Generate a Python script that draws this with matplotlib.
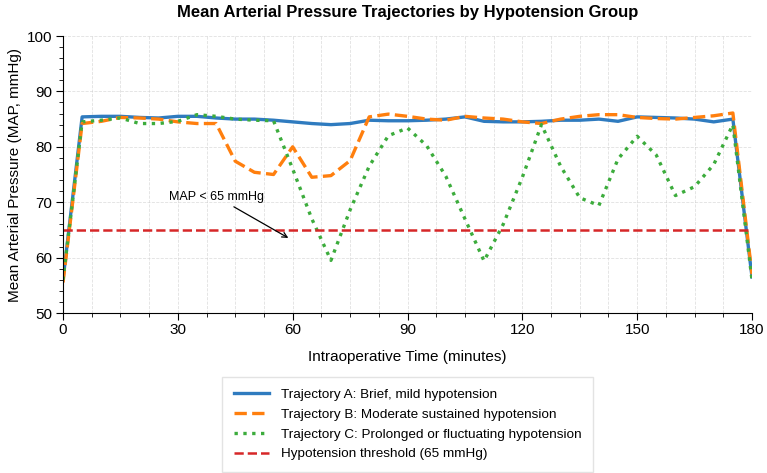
import matplotlib
matplotlib.use("Agg")
import matplotlib.pyplot as plt
from matplotlib.ticker import MultipleLocator

plt.rcParams['font.family'] = ['Liberation Sans', 'DejaVu Sans']

time_min = [0, 5, 10, 15, 20, 25, 30, 35, 40, 45, 50, 55, 60, 65, 70, 75, 80, 85, 90,
            95, 100, 105, 110, 115, 120, 125, 130, 135, 140, 145, 150, 155, 160, 165,
            170, 175, 180]

traj_a = [56.0, 85.4, 85.5, 85.5, 85.3, 85.2, 85.5, 85.5, 85.2, 85.0, 85.0, 84.8, 84.5,
          84.2, 84.0, 84.2, 84.8, 84.7, 84.7, 84.8, 85.0, 85.4, 84.6, 84.5, 84.5, 84.6,
          84.8, 84.8, 85.0, 84.6, 85.4, 85.3, 85.2, 85.0, 84.5, 85.0, 56.5]

traj_b = [55.5, 84.2, 84.6, 85.3, 85.2, 85.0, 84.5, 84.2, 84.2, 77.4, 75.4, 75.0, 80.0,
          74.5, 74.8, 77.5, 85.4, 85.9, 85.5, 85.0, 84.8, 85.5, 85.2, 85.0, 84.5, 84.2,
          85.0, 85.5, 85.8, 85.8, 85.3, 85.1, 85.0, 85.3, 85.6, 86.1, 57.0]

traj_c = [56.0, 84.5, 84.8, 85.2, 84.2, 84.2, 84.6, 85.8, 85.5, 85.0, 84.8, 84.7, 76.0,
          67.0, 59.5, 68.6, 76.5, 82.0, 83.4, 80.2, 74.7, 67.0, 59.4, 66.0, 74.5, 84.0,
          76.5, 70.8, 69.4, 77.8, 81.9, 78.5, 71.2, 72.8, 76.8, 84.0, 56.0]

threshold = 65
labels = ["Trajectory A: Brief, mild hypotension",
          "Trajectory B: Moderate sustained hypotension",
          "Trajectory C: Prolonged or fluctuating hypotension",
          "Hypotension threshold (65 mmHg)"]

fig = plt.figure(figsize=(7.67, 4.73), dpi=100)
ax = fig.add_axes([63/767, 1-313/473, (752-63)/767, (313-36)/473])

ax.plot(time_min, traj_a, color='#2f7bbf', lw=2.4, ls='-', label=labels[0])
ax.plot(time_min, traj_b, color='#ff7f0e', lw=2.4, ls='--', label=labels[1])
ax.plot(time_min, traj_c, color='#3cac3c', lw=2.4, ls=':', label=labels[2])
ax.axhline(threshold, color='#d62728', lw=1.8, ls='--', label=labels[3])

ax.annotate("MAP < 65 mmHg", xy=(59.5, 63.3), xytext=(40, 71),
            ha='center', va='center', fontsize=9,
            arrowprops=dict(arrowstyle='->', color='black', lw=0.9))

ax.set_xlim(0, 180)
ax.set_ylim(50, 100)
ax.xaxis.set_major_locator(MultipleLocator(30))
ax.xaxis.set_minor_locator(MultipleLocator(7.5))
ax.yaxis.set_major_locator(MultipleLocator(10))
ax.yaxis.set_minor_locator(MultipleLocator(2))
ax.tick_params(which='major', direction='out', length=5, labelsize=11, pad=2.5)
ax.tick_params(which='minor', direction='out', length=3)

ax.xaxis.grid(True, which='both', ls='--', color='#cccccc', lw=0.6, alpha=0.6)
ax.yaxis.grid(True, which='major', ls='--', color='#cccccc', lw=0.6, alpha=0.6)
ax.set_axisbelow(True)
for s in ['top', 'right']:
    ax.spines[s].set_visible(False)

ax.set_xlabel("Intraoperative Time (minutes)", fontsize=11, labelpad=9)
ax.set_ylabel("Mean Arterial Pressure (MAP, mmHg)", fontsize=11)
ax.set_title("Mean Arterial Pressure Trajectories by Hypotension Group",
             fontsize=12, fontweight='bold', pad=14)

ax.legend(loc='upper center', bbox_to_anchor=(0.5, -(377-313)/277),
          fontsize=9.7, frameon=True, edgecolor='#dddddd', fancybox=False,
          borderpad=0.85, borderaxespad=0, handlelength=2.6, handletextpad=0.9,
          labelspacing=0.55)

fig.savefig("out.png", dpi=100)
